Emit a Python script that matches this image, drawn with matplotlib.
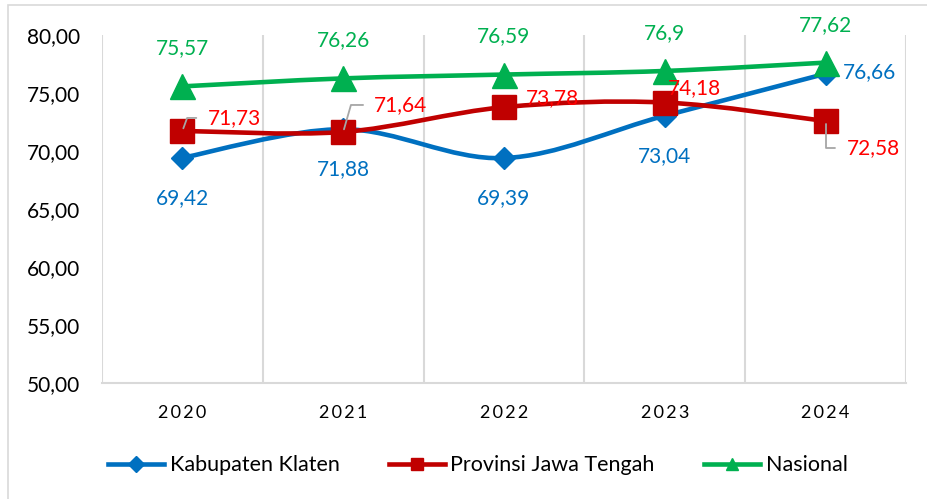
import numpy as np
import matplotlib
matplotlib.use('Agg')
import matplotlib.pyplot as plt
from matplotlib.path import Path
from matplotlib.patches import PathPatch, Rectangle
from matplotlib.lines import Line2D

# --- Data ---
tahun = ['2020', '2021', '2022', '2023', '2024']
klaten = [69.42, 71.88, 69.39, 73.04, 76.66]
jateng = [71.73, 71.64, 73.78, 74.18, 72.58]
nasional = [75.57, 76.26, 76.59, 76.9, 77.62]
y_ticks = [50, 55, 60, 65, 70, 75, 80]

plt.rcParams['font.family'] = ['Lato', 'DejaVu Sans']

biru = '#0070C0'
merah_garis = '#C00000'
merah_label = '#FF0000'
hijau = '#00B050'
abu = '#D9D9D9'


def fmt(v):
    # Excel "general" format with comma decimal
    s = ('%.2f' % v).rstrip('0').rstrip('.')
    return s.replace('.', ',')


def smooth_path(xs, ys):
    """Cubic Bezier path like Excel's smoothed line."""
    pts = np.column_stack([xs, ys]).astype(float)
    n = len(pts)
    verts = [pts[0]]
    codes = [Path.MOVETO]
    for i in range(n - 1):
        p_prev = pts[i - 1] if i > 0 else pts[i]
        p_next2 = pts[i + 2] if i + 2 < n else pts[i + 1]
        c1 = pts[i] + (pts[i + 1] - p_prev) / 6.0
        c2 = pts[i + 1] - (p_next2 - pts[i]) / 6.0
        verts += [c1, c2, pts[i + 1]]
        codes += [Path.CURVE4] * 3
    return Path(verts, codes)


fig = plt.figure(figsize=(9.28, 4.99), dpi=100)
ax = fig.add_axes([102 / 928, 1 - 383 / 499, 804 / 928, 348 / 499])

# outer chart border (cropped)
fig.patches.append(Rectangle((8 / 928, -0.1), 1.1, 1 - 5 / 499 + 0.1,
                             transform=fig.transFigure, fill=False,
                             ec='#D9D9D9', lw=1.2))

x = np.arange(len(tahun))

series = [
    (klaten, biru, 'D', 11, 'Kabupaten Klaten'),
    (jateng, merah_garis, 's', 17, 'Provinsi Jawa Tengah'),
    (nasional, hijau, '^', 18, 'Nasional'),
]

for z, (vals, warna, mk, ms, nama) in enumerate(series):
    ax.add_patch(PathPatch(smooth_path(x, vals), fill=False, ec=warna,
                           lw=3.3, capstyle='round', joinstyle='round',
                           zorder=3 + z))
    ax.plot(x, vals, ls='none', marker=mk, ms=ms, color=warna,
            mec=warna, zorder=3.5 + z)

fs = 15

# data labels Kabupaten Klaten (below, last one right)
for i, v in enumerate(klaten):
    if i == len(klaten) - 1:
        ax.annotate(fmt(v), (x[i], v), xytext=(17, 2), textcoords='offset pixels',
                    ha='left', va='center', color=biru, fontsize=fs, zorder=8)
    else:
        ax.annotate(fmt(v), (x[i], v), xytext=(0, -40), textcoords='offset pixels',
                    ha='center', va='center', color=biru, fontsize=fs, zorder=8)

# data labels Nasional (above)
for i, v in enumerate(nasional):
    ax.annotate(fmt(v), (x[i], v), xytext=(0, 38), textcoords='offset pixels',
                ha='center', va='center', color=hijau, fontsize=fs, zorder=8)

# data labels Provinsi Jawa Tengah (right, some with leader lines)
jateng_off = [(25, 13), (31, 27), (22, 9), (3, 14), (21, -27)]
jateng_leader = [70, 74, None, None, -90]
for i, v in enumerate(jateng):
    dx, dy = jateng_off[i]
    arrow = None
    if jateng_leader[i] is not None:
        arrow = dict(arrowstyle='-', color='#A6A6A6', lw=1.3, relpos=(0, 0.5),
                     shrinkA=6, shrinkB=2,
                     connectionstyle='angle,angleA=0,angleB=%d,rad=0' % jateng_leader[i])
    ax.annotate(fmt(v), (x[i], v), xytext=(dx, dy), textcoords='offset pixels',
                ha='left', va='center', color=merah_label, fontsize=fs,
                arrowprops=arrow, zorder=8)

# axes styling
ax.set_xlim(-0.5, len(tahun) - 0.5)
ax.set_ylim(50, 80)
ax.set_yticks(y_ticks)
ax.set_yticklabels(['%d,00' % t for t in y_ticks])
ax.set_xticks(x)
ax.set_xticklabels(['\u2009'.join(t) for t in tahun])
ax.set_xticks(np.arange(-0.5, len(tahun)), minor=True)
ax.grid(True, which='minor', axis='x', color=abu, lw=1.5)
ax.grid(False, which='major')
ax.tick_params(axis='both', which='both', length=0)
ax.tick_params(axis='y', labelsize=fs, pad=16)
ax.tick_params(axis='x', labelsize=13, pad=16)
for s in ['left', 'right', 'top']:
    ax.spines[s].set_visible(False)
ax.spines['bottom'].set_color(abu)
ax.spines['bottom'].set_linewidth(1.5)

# legend
handles = [Line2D([0], [0], color=w, lw=3.3, marker=m, ms=8, mec=w)
           for _, w, m, _, _ in series]
fig.legend(handles, [s[4] for s in series], loc='center',
           bbox_to_anchor=(0.515, 0.068), ncol=3, frameon=False, fontsize=15.5,
           handlelength=2.6, handletextpad=0.25, columnspacing=2.3)

fig.savefig('out.png', dpi=100)
